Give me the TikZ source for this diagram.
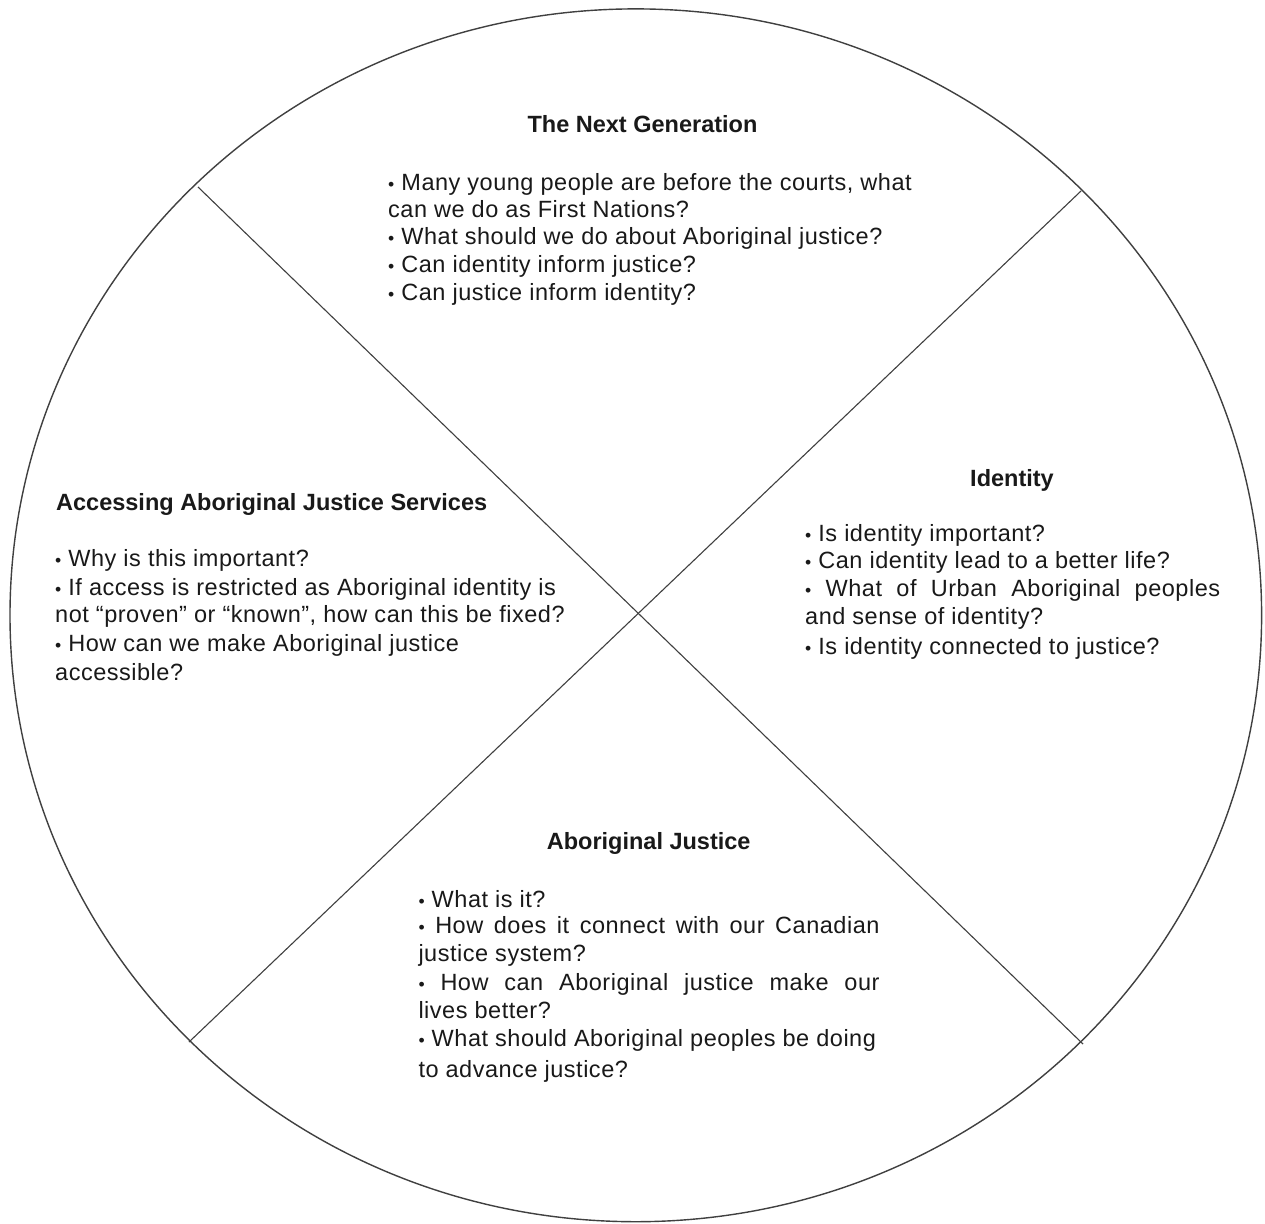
\documentclass[tikz,border=0pt]{standalone}
\usepackage{graphicx}
\usepackage{fontspec}
\setmainfont{Liberation Sans}
\newfontfamily\bodyfont[LetterSpace=2.2]{Liberation Sans}
\newcommand{\bul}{\scalebox{0.75}{•}}
\begin{document}
\begin{tikzpicture}[x=1pt,y=-1pt,
  frame/.style={draw=black!75, line width=1.4pt},
  divider/.style={draw=black!75, line width=1.1pt},
  body/.style={anchor=base west, inner sep=0pt, text=black!90, font=\bodyfont\fontsize{23.5}{28}\selectfont},
  ttl/.style={anchor=base, inner sep=0pt, text=black!90, font=\fontsize{23.5}{28}\selectfont\bfseries},
  ttlw/.style={anchor=base west, inner sep=0pt, text=black!90, font=\fontsize{23.5}{28}\selectfont\bfseries}]
\useasboundingbox (0,0) rectangle (1265,1223);
\fill[white] (0,0) rectangle (1265,1223);
% circle and dividers
\draw[frame] (635.8,615.3) ellipse [x radius=625.8, y radius=606.4];
\coordinate (a1) at (198,187);
\coordinate (a2) at (1083,1044);
\coordinate (b1) at (1081,191);
\coordinate (b2) at (189,1042);
\draw[divider] (a1) -- (a2);
\draw[divider] (b1) -- (b2);
% top
\node[ttl] (t0) at (642.5,132.7) {The Next Generation};
\node[body] (t1) at (388,190.7) {\bul{} Many young people are before the courts, what};
\node[body] (t2) at (388,217.7) {can we do as First Nations?};
\node[body] (t3) at (388,244.5) {\bul{} What should we do about Aboriginal justice?};
\node[body] (t4) at (388,272.3) {\bul{} Can identity inform justice?};
\node[body] (t5) at (388,300) {\bul{} Can justice inform identity?};
% left
\node[ttlw] (l0) at (56,510) {Accessing Aboriginal Justice Services};
\node[body] (l1) at (55,566.7) {\bul{} Why is this important?};
\node[body] (l2) at (55,595) {\bul{} If access is restricted as Aboriginal identity is};
\node[body] (l3) at (55,622.7) {not “proven” or “known”, how can this be fixed?};
\node[body] (l4) at (55,651.7) {\bul{} How can we make Aboriginal justice};
\node[body] (l5) at (55,680) {accessible?};
% right
\node[ttl] (r0) at (1012,486) {Identity};
\node[body] (r1) at (805,541) {\bul{} Is identity important?};
\node[body] (r2) at (805,568.3) {\bul{} Can identity lead to a better life?};
\node[body] (r3) at (805,596.7) {\makebox[415pt][s]{\bul{} What of Urban Aboriginal peoples}};
\node[body] (r4) at (805,624) {and sense of identity?};
\node[body] (r5) at (805,654) {\bul{} Is identity connected to justice?};
% bottom
\node[ttl] (s0) at (648.7,849.3) {Aboriginal Justice};
\node[body] (s1) at (418.3,907.3) {\bul{} What is it?};
\node[body] (s2) at (418.3,933.5) {\makebox[461pt][s]{\bul{} How does it connect with our Canadian}};
\node[body] (s3) at (418.3,961.7) {justice system?};
\node[body] (s4) at (418.3,990.7) {\makebox[461pt][s]{\bul{} How can Aboriginal justice make our}};
\node[body] (s5) at (418.3,1018) {lives better?};
\node[body] (s6) at (418.3,1046.7) {\bul{} What should Aboriginal peoples be doing};
\node[body] (s7) at (418.3,1077) {to advance justice?};
\end{tikzpicture}
\end{document}
